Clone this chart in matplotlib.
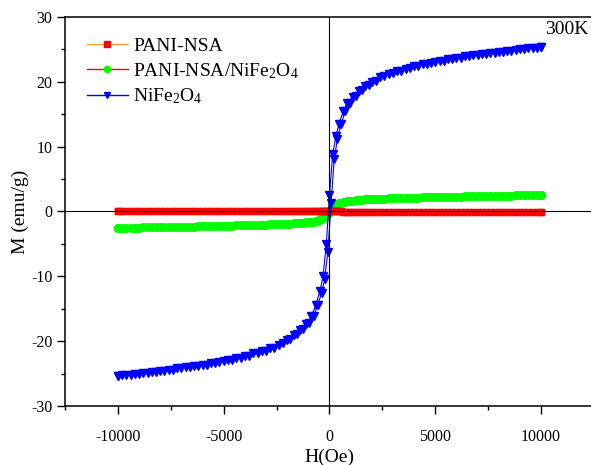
import matplotlib
matplotlib.use("Agg")
import matplotlib.pyplot as plt

plt.rcParams['font.family'] = ['Liberation Serif', 'DejaVu Serif']
plt.rcParams['mathtext.fontset'] = 'custom'
plt.rcParams['mathtext.rm'] = 'Liberation Serif'
plt.rcParams['mathtext.it'] = 'Liberation Serif:italic'
plt.rcParams['axes.unicode_minus'] = False

# field grid of the descending branch (+10 kOe -> -10 kOe)
h_down = [10000, 9600, 9200, 8800, 8400, 8000, 7600, 7200, 6800, 6400, 6000, 5600, 5200,
          4800, 4400, 4000, 3600, 3200, 2800, 2400, 2000, 1700, 1400, 1100, 850, 650, 450,
          300, 150, 0, -150, -300, -450, -650, -850, -1100, -1400, -1700, -2000, -2400,
          -2800, -3200, -3600, -4000, -4400, -4800, -5200, -5600, -6000, -6400, -6800,
          -7200, -7600, -8000, -8400, -8800, -9200, -9600, -10000]
# field grid of the ascending branch (-10 kOe -> +10 kOe)
h_up = [-10000, -9800, -9400, -9000, -8600, -8200, -7800, -7400, -7000, -6600, -6200,
        -5800, -5400, -5000, -4600, -4200, -3800, -3400, -3000, -2600, -2200, -1850,
        -1550, -1250, -950, -750, -550, -375, -225, -75, 75, 225, 375, 550, 750, 950,
        1250, 1550, 1850, 2200, 2600, 3000, 3400, 3800, 4200, 4600, 5000, 5400, 5800,
        6200, 6600, 7000, 7400, 7800, 8200, 8600, 9000, 9400, 9800, 10000]

# NiFe2O4
m_fer_down = [25.35, 25.27, 25.12, 24.98, 24.78, 24.63, 24.48, 24.28, 24.08, 23.92, 23.72,
              23.48, 23.22, 22.98, 22.70, 22.43, 22.05, 21.65, 21.25, 20.78, 20.0, 19.3,
              18.6, 17.7, 16.8, 15.5, 13.5, 11.6, 8.8, 2.5, -5.0, -9.9, -12.3, -14.4, -16.2,
              -17.4, -18.3, -19.05, -19.75, -20.55, -21.1, -21.5, -21.9, -22.3, -22.6,
              -22.9, -23.15, -23.4, -23.65, -23.85, -24.0, -24.2, -24.4, -24.55, -24.72,
              -24.9, -25.05, -25.2, -25.32]
m_fer_up = [-25.35, -25.3, -25.2, -25.05, -24.9, -24.72, -24.55, -24.38, -24.2, -24.0,
            -23.85, -23.62, -23.38, -23.12, -22.88, -22.58, -22.3, -21.9, -21.5, -21.1,
            -20.3, -19.65, -18.95, -18.15, -17.25, -16.2, -14.4, -12.6, -10.35, -6.2, 1.25,
            8.1, 11.2, 13.5, 15.5, 16.8, 17.85, 18.7, 19.45, 20.1, 20.85, 21.3, 21.7, 22.1,
            22.45, 22.75, 23.0, 23.25, 23.5, 23.75, 23.95, 24.1, 24.3, 24.5, 24.65, 24.8,
            25.0, 25.15, 25.28, 25.32]

# PANI-NSA/NiFe2O4
m_comp_down = [2.54, 2.52, 2.5, 2.48, 2.46, 2.43, 2.41, 2.38, 2.36, 2.33, 2.3, 2.27, 2.24,
               2.2, 2.17, 2.13, 2.09, 2.05, 2.01, 1.96, 1.9, 1.85, 1.78, 1.69, 1.6, 1.51,
               1.33, 1.1, 0.7, 0.15, -0.55, -0.95, -1.22, -1.45, -1.57, -1.67, -1.76,
               -1.83, -1.89, -1.95, -2.0, -2.04, -2.08, -2.12, -2.16, -2.19, -2.23, -2.26,
               -2.29, -2.32, -2.35, -2.37, -2.4, -2.42, -2.45, -2.47, -2.49, -2.51, -2.53]
m_comp_up = [-2.54, -2.53, -2.51, -2.49, -2.46, -2.44, -2.42, -2.39, -2.37, -2.34, -2.31,
             -2.28, -2.25, -2.21, -2.18, -2.14, -2.1, -2.06, -2.02, -1.98, -1.93, -1.87,
             -1.81, -1.73, -1.64, -1.55, -1.42, -1.2, -0.9, -0.4, 0.2, 0.8, 1.12, 1.38,
             1.53, 1.62, 1.72, 1.79, 1.86, 1.92, 1.98, 2.02, 2.06, 2.1, 2.14, 2.18, 2.21,
             2.25, 2.28, 2.31, 2.34, 2.36, 2.39, 2.42, 2.44, 2.46, 2.49, 2.51, 2.53, 2.54]

# PANI-NSA (nearly zero)
m_pani_down = [-0.04, -0.04, -0.04, -0.04, -0.04, -0.04, -0.03, -0.03, -0.03, -0.03, -0.03,
               -0.03, -0.03, -0.02, -0.02, -0.02, -0.02, -0.02, -0.02, -0.01, -0.01, -0.01,
               -0.01, -0.01, -0.01, -0.01, 0.0, 0.0, 0.0, 0.0, 0.0, 0.0, 0.0, 0.0, 0.01,
               0.01, 0.01, 0.01, 0.01, 0.01, 0.01, 0.02, 0.02, 0.02, 0.02, 0.02, 0.02, 0.03,
               0.03, 0.03, 0.03, 0.03, 0.03, 0.03, 0.04, 0.04, 0.04, 0.04, 0.04]
m_pani_up = [0.04, 0.04, 0.04, 0.04, 0.04, 0.04, 0.03, 0.03, 0.03, 0.03, 0.03, 0.03, 0.03,
             0.02, 0.02, 0.02, 0.02, 0.02, 0.02, 0.01, 0.01, 0.01, 0.01, 0.01, 0.01, 0.01,
             0.0, 0.0, 0.0, 0.0, 0.0, 0.0, 0.0, 0.0, -0.01, -0.01, -0.01, -0.01, -0.01,
             -0.01, -0.01, -0.02, -0.02, -0.02, -0.02, -0.02, -0.02, -0.03, -0.03, -0.03,
             -0.03, -0.03, -0.03, -0.03, -0.04, -0.04, -0.04, -0.04, -0.04, -0.04]

fig = plt.figure(figsize=(5.91, 4.65), dpi=100)
ax = fig.add_axes([0.110, 0.127, 0.895, 0.8364])

# composite (green dots, red line)
ax.plot(h_down + h_up, m_comp_down + m_comp_up, color='#ff0000', lw=0.8,
        marker='o', ms=5.5, mfc='#00ff00', mec='#00ff00', zorder=2)
# PANI-NSA (red squares, orange line)
ax.plot(h_down + h_up, m_pani_down + m_pani_up, color='#ffa040', lw=0.8,
        marker='s', ms=3.8, mfc='#ff0000', mec='#ff0000', zorder=2.5)
# NiFe2O4 (blue triangles)
ax.plot(h_down + h_up, m_fer_down + m_fer_up, color='#0000ff', lw=0.8,
        marker='v', ms=6, mfc='#0000ff', mec='#0000ff', zorder=3)

ax.axhline(0, color='black', lw=0.8, zorder=4)
ax.axvline(0, color='black', lw=0.8, zorder=4)

# legend handles (drawn in legend order)
l1, = ax.plot([], [], color='#ffa040', lw=1, marker='s', ms=4, mfc='#ff0000', mec='#ff0000')
l2, = ax.plot([], [], color='#ff0000', lw=1, marker='o', ms=4.5, mfc='#00ff00', mec='#00ff00')
l3, = ax.plot([], [], color='#0000ff', lw=1, marker='v', ms=5, mfc='#0000ff', mec='#0000ff')
ax.legend([l1, l2, l3], ['PANI-NSA', 'PANI-NSA/NiFe$_2$O$_4$', 'NiFe$_2$O$_4$'],
          loc='upper left', bbox_to_anchor=(0.041, 0.947), frameon=False,
          fontsize=14, handlelength=2.1, handletextpad=0.3, labelspacing=0.3,
          borderpad=0, borderaxespad=0)

ax.text(12260, 28.0, '300K', fontsize=14, ha='right', va='center')

ax.set_xlim(-12500, 12500)
ax.set_ylim(-30, 30)
ax.set_xticks([-10000, -5000, 0, 5000, 10000])
ax.set_xticks([-12500, -7500, -2500, 2500, 7500, 12500], minor=True)
ax.set_yticks([-30, -20, -10, 0, 10, 20, 30])
ax.set_yticks([-25, -15, -5, 5, 15, 25], minor=True)
ax.tick_params(which='both', direction='out', top=False, right=False, labelsize=11.5,
               width=1)
ax.tick_params(which='major', length=5.5)
ax.tick_params(which='minor', length=3)
ax.tick_params(axis='x', which='major', pad=11)
for s in ax.spines.values():
    s.set_linewidth(1.1)

ax.set_xlabel('H(Oe)', fontsize=14, labelpad=3)
ax.set_ylabel('M (emu/g)', fontsize=14, labelpad=1.5)

fig.savefig('out.png', dpi=100)
